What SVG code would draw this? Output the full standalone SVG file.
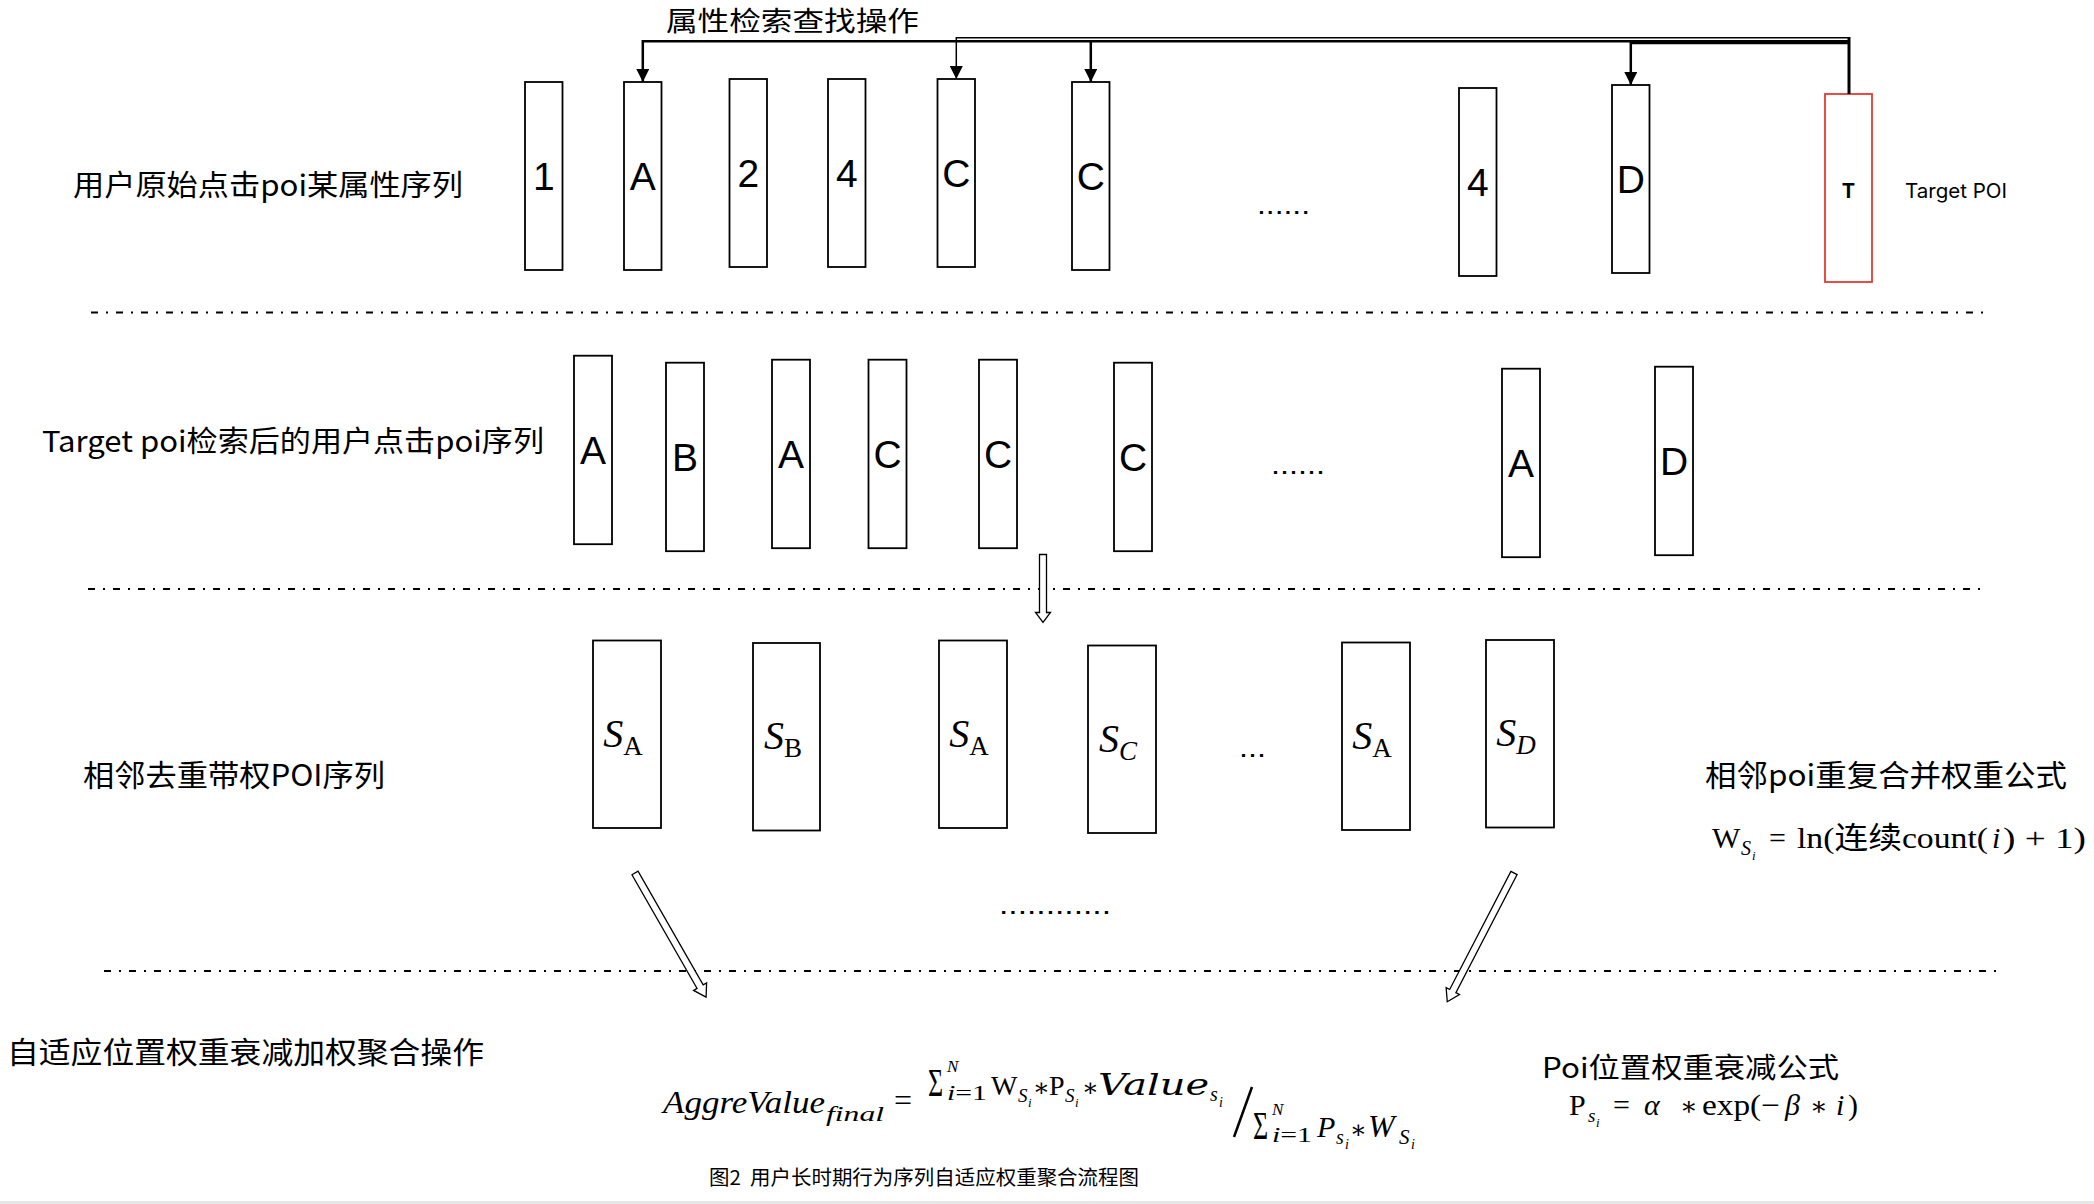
<svg xmlns="http://www.w3.org/2000/svg" width="2094" height="1204" viewBox="0 0 2094 1204">
<style>
.box{fill:#fff;stroke:#000;stroke-width:1.8}
.red{fill:#fff;stroke:#e53a2e;stroke-width:1.8}
.lt{font-family:"Liberation Sans",Arial,sans-serif;font-size:39px;text-anchor:middle;fill:#000}
.cn{font-family:"Noto Sans CJK SC",sans-serif;fill:#000}
.dd{fill:none;stroke:#000;stroke-width:2;stroke-dasharray:7 8 2 8}
.m{font-family:"Liberation Serif","DejaVu Serif",serif;fill:#000}
.mi{font-style:italic}
.sg{font-family:"DejaVu Serif",serif}
.ha{fill:#fff;stroke:#000;stroke-width:1.3;stroke-linejoin:miter}
.dots{font-family:"Liberation Sans",Arial,sans-serif;font-size:28px;fill:#000}
</style>
<defs>
<marker id="ah" markerUnits="userSpaceOnUse" markerWidth="13" markerHeight="13" refX="13" refY="6.5" orient="auto" viewBox="0 0 13 13">
<path d="M0,0 L13,6.5 L0,13 z" fill="#000"/>
</marker>
</defs>
<rect x="0" y="0" width="2094" height="1204" fill="#fff"/>
<rect x="0" y="1201" width="2094" height="3" fill="#e6e6e6"/>

<g id="separators">
<line class="dd" x1="91" y1="312.5" x2="1990" y2="312.5"/>
<line class="dd" x1="88" y1="589" x2="1984" y2="589"/>
<line class="dd" x1="104" y1="971" x2="2000" y2="971"/>
</g>

<g id="labels">
<text id="lbl-search" class="cn" x="666" y="31" font-size="27" textLength="253" lengthAdjust="spacingAndGlyphs">属性检索查找操作</text>
<text id="lbl-row1" class="cn" x="73" y="196" font-size="29" textLength="390" lengthAdjust="spacingAndGlyphs">用户原始点击poi某属性序列</text>
<text id="lbl-row2" class="cn" x="42" y="452" font-size="29" textLength="502" lengthAdjust="spacingAndGlyphs">Target poi检索后的用户点击poi序列</text>
<text id="lbl-row3" class="cn" x="83" y="786" font-size="30" textLength="302" lengthAdjust="spacingAndGlyphs">相邻去重带权POI序列</text>
<text id="lbl-row4" class="cn" x="7" y="1063" font-size="30" textLength="477" lengthAdjust="spacingAndGlyphs">自适应位置权重衰减加权聚合操作</text>
<text id="lbl-merge" class="cn" x="1705" y="786" font-size="30" textLength="362" lengthAdjust="spacingAndGlyphs">相邻poi重复合并权重公式</text>
<text id="lbl-decay" class="cn" x="1542" y="1078" font-size="28" textLength="297" lengthAdjust="spacingAndGlyphs">Poi位置权重衰减公式</text>
<text id="lbl-target" x="1905" y="198" font-family="Inter,'Noto Sans',sans-serif" font-size="20" textLength="102" lengthAdjust="spacingAndGlyphs" fill="#000">Target POI</text>
<text id="caption" class="cn" x="709" y="1185" font-size="20" textLength="430" lengthAdjust="spacingAndGlyphs">图2&#160; 用户长时期行为序列自适应权重聚合流程图</text>
<text class="dots" x="1257" y="214" textLength="53" lengthAdjust="spacingAndGlyphs">......</text>
<text class="dots" x="1271" y="474" textLength="54" lengthAdjust="spacingAndGlyphs">......</text>
<text class="dots" x="1239" y="757" textLength="27" lengthAdjust="spacingAndGlyphs">...</text>
<text class="dots" x="999" y="914" textLength="112" lengthAdjust="spacingAndGlyphs">............</text>
</g>

<g id="r1-1"><rect class="box" x="525" y="82" width="37.5" height="188"/><text class="lt" x="543.8" y="190">1</text></g>
<g id="r1-A"><rect class="box" x="624" y="82" width="37.5" height="188"/><text class="lt" x="642.8" y="190">A</text></g>
<g id="r1-2"><rect class="box" x="729.5" y="79" width="37.5" height="188"/><text class="lt" x="748.3" y="187">2</text></g>
<g id="r1-4"><rect class="box" x="828" y="79" width="37.5" height="188"/><text class="lt" x="846.8" y="187">4</text></g>
<g id="r1-C1"><rect class="box" x="937.5" y="79" width="37.5" height="188"/><text class="lt" x="956.3" y="187">C</text></g>
<g id="r1-C2"><rect class="box" x="1072" y="82" width="37.5" height="188"/><text class="lt" x="1090.8" y="190">C</text></g>
<g id="r1-4b"><rect class="box" x="1459" y="88" width="37.5" height="188"/><text class="lt" x="1477.8" y="196">4</text></g>
<g id="r1-D"><rect class="box" x="1612" y="85" width="37.5" height="188"/><text class="lt" x="1630.8" y="193">D</text></g>
<g id="r1-T"><rect class="red" x="1825" y="94" width="47" height="188"/><text x="1848.5" y="198" font-family="Inter,'Noto Sans',sans-serif" font-size="20" font-weight="bold" text-anchor="middle" fill="#000">T</text></g>

<g id="r2-A1"><rect class="box" x="574" y="355.7" width="38" height="188.5"/><text class="lt" x="593" y="464">A</text></g>
<g id="r2-B"><rect class="box" x="666" y="362.7" width="38" height="188.5"/><text class="lt" x="685" y="471">B</text></g>
<g id="r2-A2"><rect class="box" x="772" y="359.7" width="38" height="188.5"/><text class="lt" x="791" y="468">A</text></g>
<g id="r2-C1"><rect class="box" x="868.5" y="359.7" width="38" height="188.5"/><text class="lt" x="887.5" y="468">C</text></g>
<g id="r2-C2"><rect class="box" x="979" y="359.7" width="38" height="188.5"/><text class="lt" x="998" y="468">C</text></g>
<g id="r2-C3"><rect class="box" x="1114" y="362.7" width="38" height="188.5"/><text class="lt" x="1133" y="471">C</text></g>
<g id="r2-A3"><rect class="box" x="1502" y="368.7" width="38" height="188.5"/><text class="lt" x="1521" y="477">A</text></g>
<g id="r2-D"><rect class="box" x="1655" y="366.7" width="38" height="188.5"/><text class="lt" x="1674" y="475">D</text></g>

<g id="r3-SA1"><rect class="box" x="593" y="640.5" width="68" height="187.5"/><text class="m" x="623" y="747" font-size="40" text-anchor="middle"><tspan class="mi">S</tspan><tspan font-size="27" dy="8">A</tspan></text></g>
<g id="r3-SB"><rect class="box" x="753" y="643" width="67" height="187.5"/><text class="m" x="783" y="749" font-size="40" text-anchor="middle"><tspan class="mi">S</tspan><tspan font-size="27" dy="8">B</tspan></text></g>
<g id="r3-SA2"><rect class="box" x="939" y="640.5" width="68" height="187.5"/><text class="m" x="969" y="747" font-size="40" text-anchor="middle"><tspan class="mi">S</tspan><tspan font-size="27" dy="8">A</tspan></text></g>
<g id="r3-SC"><rect class="box" x="1088" y="645.5" width="68" height="187.5"/><text class="m" x="1118" y="752" font-size="40" text-anchor="middle"><tspan class="mi">S</tspan><tspan class="mi" font-size="27" dy="8">C</tspan></text></g>
<g id="r3-SA3"><rect class="box" x="1342" y="642.5" width="68" height="187.5"/><text class="m" x="1372" y="749" font-size="40" text-anchor="middle"><tspan class="mi">S</tspan><tspan font-size="27" dy="8">A</tspan></text></g>
<g id="r3-SD"><rect class="box" x="1486" y="640" width="68" height="187.5"/><text class="m" x="1516" y="746" font-size="40" text-anchor="middle"><tspan class="mi">S</tspan><tspan class="mi" font-size="27" dy="8">D</tspan></text></g>

<g id="connectors">
<path d="M1849,94 V37.7 H956.3 V79" fill="none" stroke="#000" stroke-width="1.5" marker-end="url(#ah)"/>
<path d="M1849,41.3 H642.8 V82" fill="none" stroke="#000" stroke-width="2.5" marker-end="url(#ah)"/>
<path d="M1090.8,41.3 V82" fill="none" stroke="#000" stroke-width="2.5" marker-end="url(#ah)"/>
<path d="M1849,43 H1630.8 V85" fill="none" stroke="#000" stroke-width="2.5" marker-end="url(#ah)"/>
<line x1="1849" y1="37" x2="1849" y2="94" stroke="#000" stroke-width="3"/>
<path class="ha" transform="translate(1043,554.5)" d="M-3.5,0 L3.5,0 L3.5,58 L7.5,58 L0,68 L-7.5,58 L-3.5,58 Z"/>
<path class="ha" transform="translate(635,873) rotate(-29.8)" d="M-3.5,0 L3.5,0 L3.5,131 L7.5,131 L0,143 L-7.5,131 L-3.5,131 Z"/>
<path class="ha" transform="translate(1514,873) rotate(27.4)" d="M-3.5,0 L3.5,0 L3.5,133 L7.5,133 L0,145 L-7.5,133 L-3.5,133 Z"/>
</g>

<g id="formula-w" class="m">
<text x="1712" y="848" font-size="30">W</text>
<text x="1741" y="855" font-size="20" class="mi">S</text>
<text x="1752" y="860" font-size="13" class="mi">i</text>
<text x="1769" y="848" font-size="30">=</text>
<text x="1797" y="848" font-size="30" textLength="191" lengthAdjust="spacingAndGlyphs">ln(<tspan font-family="'Noto Sans CJK SC',sans-serif">连续</tspan>count(</text>
<text x="1992" y="848" font-size="30" class="mi">i</text>
<text x="2003" y="848" font-size="30" textLength="83" lengthAdjust="spacingAndGlyphs">) + 1)</text>
</g>

<g id="formula-p" class="m">
<text x="1569" y="1115" font-size="30">P</text>
<text x="1588" y="1122" font-size="19" class="mi">s</text>
<text x="1596" y="1127" font-size="13" class="mi">i</text>
<text x="1613" y="1115" font-size="30">=</text>
<text x="1644" y="1115" font-size="30" class="mi">α</text>
<text x="1680" y="1115" font-size="26" class="sg">∗</text>
<text x="1702" y="1115" font-size="30" textLength="78" lengthAdjust="spacingAndGlyphs">exp(−</text>
<text x="1785" y="1115" font-size="30" class="mi">β</text>
<text x="1810" y="1115" font-size="26" class="sg">∗</text>
<text x="1836" y="1115" font-size="30" class="mi">i</text>
<text x="1848" y="1115" font-size="30">)</text>
</g>

<g id="formula-agg" class="m">
<text x="663" y="1113" font-size="32" class="mi" textLength="162" lengthAdjust="spacingAndGlyphs">AggreValue</text>
<text x="826" y="1121" font-size="22" class="mi" textLength="58" lengthAdjust="spacingAndGlyphs">final</text>
<text x="894" y="1111" font-size="32">=</text>
<text transform="translate(928,1096) scale(0.65,1)" font-size="40">Σ</text>
<text x="947" y="1072" font-size="17" class="mi">N</text>
<text x="947" y="1100" font-size="20" textLength="40" lengthAdjust="spacingAndGlyphs"><tspan class="mi">i</tspan>=1</text>
<text x="991" y="1095" font-size="28">W</text>
<text x="1018" y="1102" font-size="19" class="mi">S</text>
<text x="1028" y="1107" font-size="13" class="mi">i</text>
<text x="1033" y="1096" font-size="25" class="sg">∗</text>
<text x="1049" y="1095" font-size="28">P</text>
<text x="1065" y="1102" font-size="19" class="mi">S</text>
<text x="1075" y="1107" font-size="13" class="mi">i</text>
<text x="1082" y="1096" font-size="25" class="sg">∗</text>
<text x="1098" y="1095" font-size="29" class="sg mi" textLength="111" lengthAdjust="spacingAndGlyphs">Value</text>
<text x="1210" y="1101" font-size="20" class="mi">s</text>
<text x="1219" y="1107" font-size="14" class="mi">i</text>
<line x1="1252" y1="1087" x2="1234" y2="1137" stroke="#000" stroke-width="2.5"/>
<text transform="translate(1253,1139) scale(0.65,1)" font-size="40">Σ</text>
<text x="1272" y="1115" font-size="17" class="mi">N</text>
<text x="1272" y="1142" font-size="20" textLength="40" lengthAdjust="spacingAndGlyphs"><tspan class="mi">i</tspan>=1</text>
<text x="1317" y="1137" font-size="30" class="mi">P</text>
<text x="1336" y="1144" font-size="20" class="mi">s</text>
<text x="1345" y="1149" font-size="14" class="mi">i</text>
<text x="1350" y="1138" font-size="25" class="sg">∗</text>
<text x="1368" y="1137" font-size="32" class="mi">W</text>
<text x="1399" y="1144" font-size="21" class="mi">S</text>
<text x="1411" y="1149" font-size="14" class="mi">i</text>
</g>
</svg>
